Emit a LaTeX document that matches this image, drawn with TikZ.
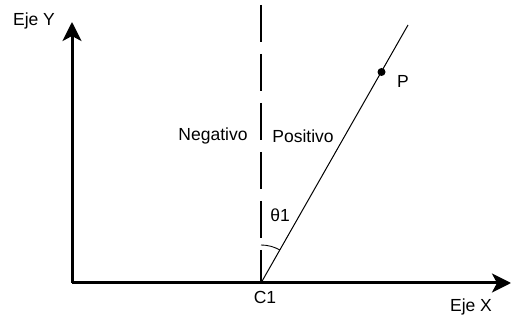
\documentclass[tikz,border=0pt]{standalone}
\usepackage{fontspec}
\setmainfont{Liberation Sans}
\usetikzlibrary{arrows.meta}
\begin{document}
\begin{tikzpicture}[x=1pt,y=1pt,
  axis/.style={line width=3pt,-{Stealth[length=19pt,width=19pt,inset=5pt]}},
  lbl/.style={inner sep=0pt,font=\fontsize{17.5}{19}\selectfont},
  guide/.style={line width=1.3pt,dash pattern=on 37pt off 12pt},
  ray/.style={line width=1pt}]
\useasboundingbox (0,0) rectangle (513,320);
\coordinate (O) at (72,37);
\coordinate (C1) at (261,37);
\coordinate (ytip) at (72,298);
\coordinate (xtip) at (511,37);
\coordinate (dtop) at (261,315);
\coordinate (rtop) at (408,295);
\coordinate (arcs) at (261,75);
\node[circle,fill=black,inner sep=0pt,minimum size=8pt] (P) at (381.5,248) {};
\draw[guide] (dtop) -- (C1);
\draw[ray] (C1) -- (rtop);
\draw[line width=0.9pt] (arcs) arc[start angle=90,end angle=60.4,radius=38];
\draw[axis] (O) -- (ytip);
\draw[axis] (O) -- (xtip);
\node[lbl] (ey) at (34,299) {Eje Y};
\node[lbl] (ex) at (471,13) {Eje X};
\node[lbl] (c1l) at (265,23) {C1};
\node[lbl] (th) at (280,105) {θ1};
\node[lbl] (pl) at (403,239) {P};
\node[lbl] (neg) at (213,184) {Negativo};
\node[lbl] (pos) at (303,184) {Positivo};
\end{tikzpicture}
\end{document}
